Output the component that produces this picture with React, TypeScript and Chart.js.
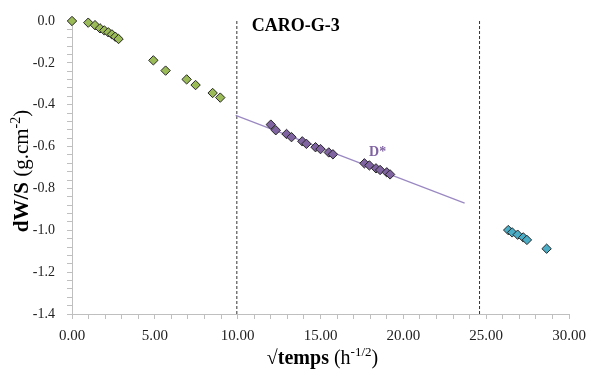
import React, { useEffect, useRef } from "react";
import { Chart, registerables } from "chart.js";

Chart.register(...registerables);

const greenX = [0, 0.98, 1.39, 1.69, 1.95, 2.19, 2.41, 2.61, 2.81, 4.91, 5.65, 6.92, 7.46, 8.49, 8.95];
const greenY = [0, -0.008, -0.02, -0.035, -0.045, -0.054, -0.064, -0.075, -0.086, -0.188, -0.237, -0.279, -0.306, -0.344, -0.366];

const purpleX = [12.0, 12.3, 12.95, 13.25, 13.9, 14.15, 14.7, 15.0, 15.5, 15.75, 17.65, 17.95, 18.35, 18.6, 19.0, 19.2];
const purpleY = [-0.495, -0.522, -0.54, -0.555, -0.575, -0.587, -0.603, -0.612, -0.628, -0.637, -0.68, -0.69, -0.704, -0.712, -0.723, -0.733];

const blueX = [26.33, 26.57, 26.9, 27.24, 27.46, 28.65];
const blueY = [-0.999, -1.01, -1.021, -1.034, -1.046, -1.088];

const fitX = [9.88, 23.7];
const fitY = [-0.451, -0.87];

const dashX = [9.95, 24.6];
const yRange = [0, -1.4];
const xRange = [0, 30];

const chartTitle = "CARO-G-3";
const fitLabel = "D*";

const SERIF = "'Liberation Serif', 'Times New Roman', serif";

const toPts = (xs: number[], ys: number[]) => xs.map((x, i) => ({ x, y: ys[i] }));

type Part = { t: string; font: string; dy: number };

function drawParts(ctx: CanvasRenderingContext2D, parts: Part[], cx: number, baseline: number) {
  let total = 0;
  const widths = parts.map((p) => {
    ctx.font = p.font;
    const w = ctx.measureText(p.t).width;
    total += w;
    return w;
  });
  let x = cx - total / 2;
  ctx.textAlign = "left";
  ctx.textBaseline = "alphabetic";
  parts.forEach((p, i) => {
    ctx.font = p.font;
    ctx.fillText(p.t, x, baseline + p.dy);
    x += widths[i];
  });
}

const annotPlugin = {
  id: "annot",
  afterDraw(chart: any) {
    const { ctx, scales, chartArea } = chart;
    const xs = scales.x;
    const ys = scales.y;
    ctx.save();
    ctx.fillStyle = "#000";
    ctx.font = `bold 18px ${SERIF}`;
    ctx.textAlign = "left";
    ctx.textBaseline = "middle";
    ctx.fillText(chartTitle, xs.getPixelForValue(10.85), ys.getPixelForValue(-0.025));
    ctx.fillStyle = "#8064A2";
    ctx.font = `bold 14px ${SERIF}`;
    ctx.textAlign = "center";
    ctx.fillText(fitLabel, xs.getPixelForValue(18.45), ys.getPixelForValue(-0.626));
    ctx.fillStyle = "#000";
    drawParts(
      ctx,
      [
        { t: "\u221Atemps", font: `bold 20px ${SERIF}`, dy: 0 },
        { t: " (h", font: `20px ${SERIF}`, dy: 0 },
        { t: "-1/2", font: `13px ${SERIF}`, dy: -8 },
        { t: ")", font: `20px ${SERIF}`, dy: 0 },
      ],
      (chartArea.left + chartArea.right) / 2 + 2,
      364
    );
    ctx.translate(21, 171);
    ctx.rotate(-Math.PI / 2);
    drawParts(
      ctx,
      [
        { t: "dW/S", font: `bold 21px ${SERIF}`, dy: 0 },
        { t: " (g.cm", font: `21px ${SERIF}`, dy: 0 },
        { t: "-2", font: `14px ${SERIF}`, dy: -8 },
        { t: ")", font: `21px ${SERIF}`, dy: 0 },
      ],
      0,
      7
    );
    ctx.restore();
  },
};

export default function App() {
  const ref = useRef<HTMLCanvasElement | null>(null);

  useEffect(() => {
    if (!ref.current) return;
    const markerBorder = "#262626";
    const pointDs = (xs: number[], ys: number[], color: string) => ({
      data: toPts(xs, ys),
      pointStyle: "rectRot",
      pointRadius: 4.7,
      backgroundColor: color,
      borderColor: markerBorder,
      borderWidth: 1,
      order: 1,
      clip: false,
    });
    const chart = new Chart(ref.current, {
      type: "scatter",
      data: {
        datasets: [
          pointDs(greenX, greenY, "#9BBB59"),
          pointDs(purpleX, purpleY, "#8064A2"),
          pointDs(blueX, blueY, "#4BACC6"),
          {
            data: toPts(fitX, fitY),
            showLine: true,
            pointRadius: 0,
            borderColor: "#9A88C2",
            borderWidth: 1.2,
            order: 2,
          },
          ...dashX.map((dx) => ({
            data: [
              { x: dx, y: yRange[0] },
              { x: dx, y: yRange[1] },
            ],
            showLine: true,
            pointRadius: 0,
            borderColor: "#333",
            borderWidth: 1,
            borderDash: [3, 2],
            order: 3,
          })),
        ],
      },
      options: {
        animation: false,
        responsive: false,
        layout: { padding: { left: 0, right: 28, top: 21, bottom: 0 } },
        plugins: { legend: { display: false }, tooltip: { enabled: false } },
        scales: {
          x: {
            type: "linear",
            min: xRange[0],
            max: xRange[1],
            afterBuildTicks: (s: any) => {
              const t = [];
              for (let i = 0; i <= 30; i++) t.push({ value: i });
              s.ticks = t;
            },
            afterFit: (s: any) => {
              s.height = 58;
            },
            ticks: {
              autoSkip: false,
              maxRotation: 0,
              padding: 8,
              color: "#222",
              font: { family: SERIF, size: 15 },
              callback: (v: any, i: number) => (i % 5 === 0 ? Number(v).toFixed(2) : ""),
            },
            grid: { display: true, drawOnChartArea: false, drawTicks: true, tickLength: 5, color: "#BFBFBF" },
            border: { display: true, color: "#BFBFBF" },
          },
          y: {
            type: "linear",
            min: yRange[1],
            max: yRange[0],
            afterBuildTicks: (s: any) => {
              const t = [];
              for (let i = 0; i <= 35; i++) t.push({ value: Math.round((-1.4 + i * 0.04) * 100) / 100 });
              s.ticks = t;
            },
            afterFit: (s: any) => {
              s.width = 72;
            },
            ticks: {
              autoSkip: false,
              padding: 12,
              color: "#222",
              font: { family: SERIF, size: 14 },
              callback: (v: any, i: number) => (i % 5 === 0 ? Number(v).toFixed(1) : ""),
            },
            grid: { display: true, drawOnChartArea: false, drawTicks: true, tickLength: 5, color: "#BFBFBF" },
            border: { display: true, color: "#BFBFBF" },
          },
        },
      },
      plugins: [annotPlugin],
    } as any);
    return () => chart.destroy();
  }, []);

  return (
    <div style={{ position: "absolute", left: 0, top: 0, width: 597, height: 372, background: "#fff" }}>
      <canvas ref={ref} width={597} height={372} style={{ display: "block" }} />
    </div>
  );
}
